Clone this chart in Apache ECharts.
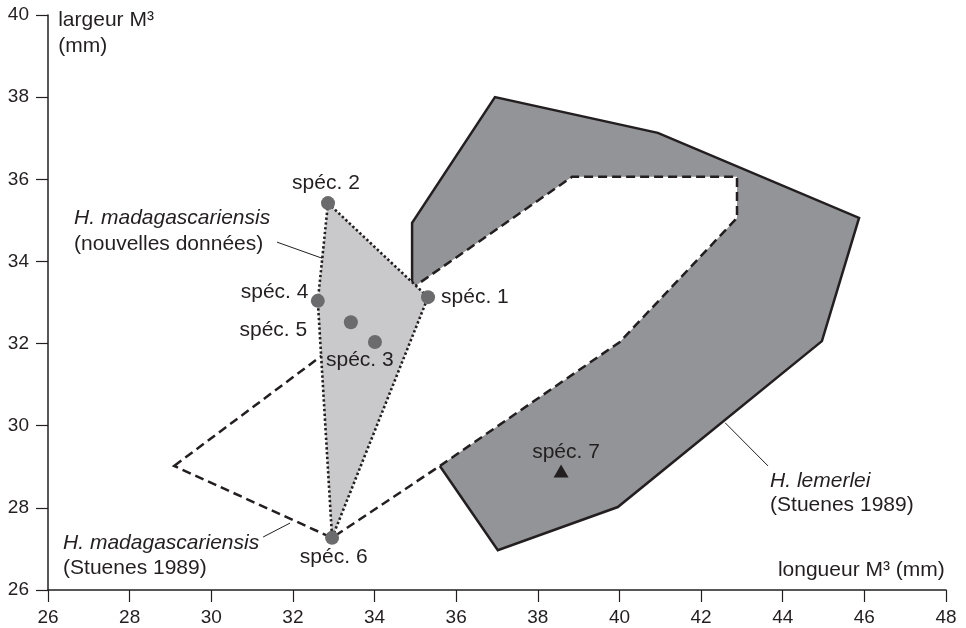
<!DOCTYPE html>
<html>
<head>
<meta charset="utf-8">
<script src="https://cdn.jsdelivr.net/npm/echarts@6/dist/echarts.min.js"></script>
<style>
  html, body { margin: 0; padding: 0; background: #fff; }
  #main { width: 966px; height: 628px; }
</style>
</head>
<body>
<div id="main"></div>
<script>
// axes
var xTicks = [26, 48, 2];
var yTicks = [26, 40, 2];

// H. lemerlei (Stuenes 1989): solid outer edge, then the dashed inner edge
var lemerleiOuter = [[34.92, 33.35], [34.92, 34.94], [36.95, 38.0], [40.94, 37.13], [45.87, 35.06],
  [44.96, 32.06], [39.96, 28.02], [37.02, 26.97], [35.6, 29.02]];
var lemerleiInner = [[40.01, 32.04], [42.88, 35.06], [42.88, 36.06], [38.84, 36.06]];

// H. madagascariensis (Stuenes 1989), dashed outline
var stuenesMad = [[29.09, 29.02], [34.92, 33.35], [38.84, 36.06], [42.88, 36.06], [42.88, 35.06],
  [40.01, 32.04], [35.6, 29.02], [32.96, 27.27]];

// specimens
var specNames = ['spéc. 1', 'spéc. 2', 'spéc. 3', 'spéc. 4', 'spéc. 5', 'spéc. 6'];
var specX = [35.31, 32.86, 34.01, 32.61, 33.42, 32.96];
var specY = [33.13, 35.42, 32.04, 33.04, 32.52, 27.27];
var spec7 = [38.57, 28.9];
// hull of the new data: spéc. 2, 1, 6, 4
var hullOrder = [1, 0, 5, 3];

// text labels [text, x, y, align, italic]
var labels = [
  ['spéc. 2', 32.81, 35.91, 'center', false],
  ['spéc. 1', 35.63, 33.13, 'left', false],
  ['spéc. 4', 32.38, 33.26, 'right', false],
  ['spéc. 5', 32.35, 32.33, 'right', false],
  ['spéc. 3', 32.81, 31.6, 'left', false],
  ['spéc. 6', 33.0, 26.8, 'center', false],
  ['spéc. 7', 38.69, 29.36, 'center', false],
  ['H. madagascariensis', 26.64, 35.06, 'left', true],
  ['(nouvelles données)', 26.64, 34.42, 'left', false],
  ['H. madagascariensis', 26.37, 27.14, 'left', true],
  ['(Stuenes 1989)', 26.37, 26.53, 'left', false],
  ['H. lemerlei', 43.69, 28.65, 'left', true],
  ['(Stuenes 1989)', 43.69, 28.07, 'left', false],
  ['largeur M³', 26.25, 39.87, 'left', false],
  ['(mm)', 26.25, 39.24, 'left', false],
  ['longueur M³ (mm)', 47.97, 26.49, 'right', false]
];

// leader lines [x1, y1, x2, y2]
var leaders = [
  [31.61, 34.47, 32.71, 34.08],
  [31.27, 27.29, 31.93, 27.63],
  [43.64, 29.02, 42.59, 30.07]
];

var FONT = "'Liberation Sans', Arial, sans-serif";
var INK = '#231f20';

function toPx(api, pts) {
  return pts.map(function (p) { return api.coord(p); });
}

var hull = hullOrder.map(function (i) { return [specX[i], specY[i]]; });

var chart = echarts.init(document.getElementById('main'));
var option = {
  backgroundColor: '#fff',
  animation: false,
  grid: { left: 48, right: 20, top: 15, bottom: 38 },
  xAxis: {
    type: 'value', min: xTicks[0], max: xTicks[1], interval: xTicks[2],
    axisLine: { lineStyle: { color: INK, width: 1.5 } },
    axisTick: { show: true, length: 12, lineStyle: { color: INK, width: 1.2 } },
    axisLabel: { color: INK, fontSize: 19, fontFamily: FONT, margin: 18 },
    splitLine: { show: false }
  },
  yAxis: {
    type: 'value', min: yTicks[0], max: yTicks[1], interval: yTicks[2],
    axisLine: { show: true, lineStyle: { color: INK, width: 1.5 } },
    axisTick: { show: true, length: 12, lineStyle: { color: INK, width: 1.2 } },
    axisLabel: { color: INK, fontSize: 19, fontFamily: FONT, margin: 19 },
    splitLine: { show: false }
  },
  series: [
    { // dark area
      type: 'custom', clip: false, silent: true, data: [0], z: 1,
      renderItem: function (params, api) {
        return { type: 'polygon', shape: { points: toPx(api, lemerleiOuter.concat(lemerleiInner)) },
          style: { fill: '#939497', stroke: null } };
      }
    },
    { // solid outline
      type: 'custom', clip: false, silent: true, data: [0], z: 2,
      renderItem: function (params, api) {
        return { type: 'polyline', shape: { points: toPx(api, lemerleiOuter) },
          style: { fill: null, stroke: INK, lineWidth: 2.5, lineJoin: 'miter' } };
      }
    },
    { // dashed outline
      type: 'custom', clip: false, silent: true, data: [0], z: 3,
      renderItem: function (params, api) {
        return { type: 'polygon', shape: { points: toPx(api, stuenesMad) },
          style: { fill: null, stroke: INK, lineWidth: 2.5, lineDash: [9, 5] } };
      }
    },
    { // new data hull
      type: 'custom', clip: false, silent: true, data: [0], z: 4,
      renderItem: function (params, api) {
        return { type: 'polygon', shape: { points: toPx(api, hull) },
          style: { fill: '#c9c9cb', stroke: INK, lineWidth: 2.6, lineDash: [2.4, 2.4] } };
      }
    },
    { // leader lines
      type: 'custom', clip: false, silent: true, data: leaders, z: 5,
      renderItem: function (params, api) {
        var a = api.coord([api.value(0), api.value(1)]);
        var b = api.coord([api.value(2), api.value(3)]);
        return { type: 'line', shape: { x1: a[0], y1: a[1], x2: b[0], y2: b[1] },
          style: { stroke: INK, lineWidth: 1 } };
      }
    },
    {
      type: 'scatter', silent: true, z: 6,
      symbol: 'circle', symbolSize: 14,
      itemStyle: { color: '#6b6b6e', opacity: 1 },
      data: specX.map(function (x, i) { return [x, specY[i]]; })
    },
    {
      type: 'scatter', silent: true, z: 6,
      symbol: 'triangle', symbolSize: [15, 13],
      itemStyle: { color: INK, opacity: 1 },
      data: [spec7]
    },
    { // texts
      type: 'custom', clip: false, silent: true, z: 7,
      data: labels.map(function (l) { return [l[1], l[2]]; }),
      renderItem: function (params, api) {
        var l = labels[params.dataIndex];
        var p = api.coord([l[1], l[2]]);
        return { type: 'text', x: p[0], y: p[1],
          style: { text: l[0], fill: INK, align: l[3], verticalAlign: 'middle',
            font: (l[4] ? 'italic ' : '') + '21px ' + FONT } };
      }
    }
  ]
};
chart.setOption(option, true);
window.addEventListener('resize', function () { chart.resize(); });
</script>
</body>
</html>
